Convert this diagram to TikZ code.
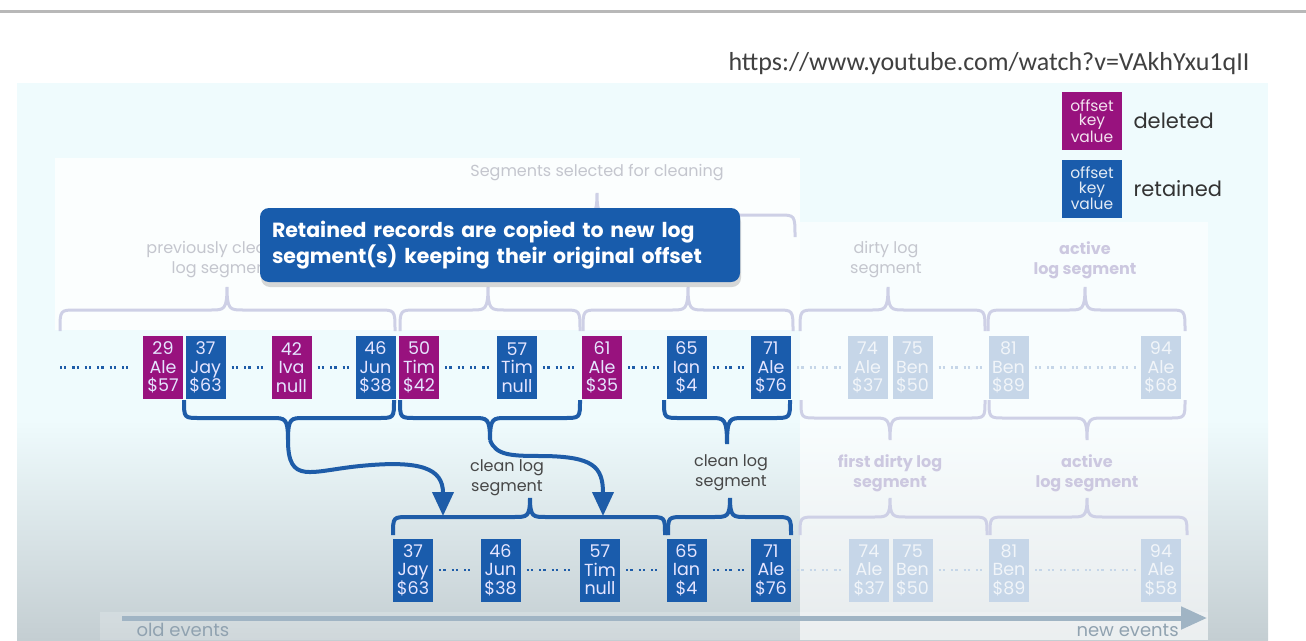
\documentclass[tikz,border=0pt]{standalone}
\usepackage{fontspec}
\setmainfont{Poppins}
\newfontfamily\urlfont{Carlito}
\usetikzlibrary{arrows.meta,shadows}

\definecolor{delcol}{RGB}{152,18,126}
\definecolor{retcol}{RGB}{26,92,172}
\definecolor{bracecol}{RGB}{30,92,168}
\definecolor{fadebox}{RGB}{198,214,232}
\definecolor{fadeline}{RGB}{206,208,230}
\definecolor{fadetext}{RGB}{196,198,206}
\definecolor{fadebold}{RGB}{204,200,224}
\definecolor{slidetop}{RGB}{239,251,253}
\definecolor{slidebot}{RGB}{196,206,210}
\definecolor{notecol}{RGB}{24,92,172}
\definecolor{axiscol}{RGB}{160,180,196}

% curly brace: [style] x1, x2, xtip, yend, yarm, ytip
\newcommand{\segbrace}[7][]{%
  \draw[#1] (#2,#5) .. controls (#2,#6) .. (#2+16,#6) -- (#4-16,#6)
    .. controls (#4-3,#6) and (#4,#6) .. (#4,#7)
    .. controls (#4,#6) and (#4+3,#6) .. (#4+16,#6) -- (#3-16,#6)
    .. controls (#3,#6) .. (#3,#5);}

\tikzset{
  rec/.style={minimum width=40pt, minimum height=63pt, inner sep=0pt, align=center,
    font=\fontsize{17.5}{18.5}\selectfont, text=white!90!blue},
  delrec/.style={rec, fill=delcol},
  retrec/.style={rec, fill=retcol},
  oldrec/.style={rec, fill=fadebox, text=white!75!fadebox},
  dotgap/.style={draw=bracecol, line width=2.4pt, dash pattern=on 2.2pt off 2pt on 2.2pt off 6pt,
    shorten <=6pt, shorten >=5pt},
  fadegap/.style={dotgap, draw=fadebox},
  darkbrace/.style={draw=bracecol, line width=4pt},
  lightbrace/.style={draw=fadeline, line width=3pt},
  seglabel/.style={align=center, font=\fontsize{16}{20}\selectfont, text=black!72},
  fadelabel/.style={seglabel, text=fadetext},
  fadehead/.style={seglabel, text=fadebold, font=\bfseries\fontsize{16}{20}\selectfont},
  flow/.style={draw=bracecol, line width=4pt, -{Triangle[length=24pt,width=21pt]}},
  legbox/.style={minimum width=60pt, minimum height=58pt, inner sep=0pt, align=center,
    font=\fontsize{15.5}{14.5}\selectfont},
  legtext/.style={anchor=west, font=\fontsize{21}{24}\selectfont, text=black!80},
  axistext/.style={anchor=base west, font=\fontsize{18}{22}\selectfont, text=axiscol!90!black},
}

\begin{document}
\begin{tikzpicture}[x=1pt,y=-1pt]
    \clip (0,0) rectangle (1306,640);
    \fill[white] (0,0) rectangle (1306,640);
    \draw[black!28,line width=3pt] (0,11) -- (1306,11);
    \node[anchor=east, font=\urlfont\fontsize{26}{28}\selectfont, text=black!75] (url) at (1253,64)
        {https://www.youtube.com/watch?v=VAkhYxu1qII};

    % slide background and fading panels
    \fill[slidetop] (17,83) rectangle (1268,420);
    \shade[top color=slidetop,bottom color=slidebot] (17,420) rectangle (1268,640);
    \fill[white,opacity=0.8] (55,158) rectangle (800,330);
    \fill[white,opacity=0.6] (800,222) rectangle (1208,640);
    \fill[white,opacity=0.2] (100,612) rectangle (1208,640);

    % legend
    \node[legbox, fill=delcol, text=white!88!delcol] (legdel) at (1092,121) {offset\\key\\value};
    \node[legbox, fill=retcol, text=white!88!retcol] (legret) at (1092,188.5) {offset\\key\\value};
    \node[legtext] (deltext) at (1130,121) {deleted};
    \node[legtext] (rettext) at (1130,189) {retained};

    % faded labels and braces above the log
    \node[fadelabel] (selected) at (597,173) {Segments selected for cleaning};
    \segbrace[lightbrace]{400}{795}{597}{237}{215}{193}
    \node[fadelabel] (prevseg) at (222,260) {previously cleaned\\log segment};
    \node[fadelabel] (dirtyseg) at (886,260) {dirty log\\segment};
    \node[fadehead] (activeseg) at (1085,260) {active\\log segment};
    \segbrace[lightbrace]{60}{395}{227}{331}{310}{287}
    \segbrace[lightbrace]{400}{580}{488}{331}{310}{287}
    \segbrace[lightbrace]{583}{793}{688}{331}{310}{287}
    \segbrace[lightbrace]{800}{985}{888}{331}{310}{287}
    \segbrace[lightbrace]{988}{1185}{1085}{331}{310}{287}

    % log before cleaning
    \coordinate (logstart) at (60,367.5);
    \node[delrec] (t29) at (163,367.5) {29\\Ale\\\$57};
    \node[retrec] (t37) at (205.5,367.5) {37\\Jay\\\$63};
    \node[delrec] (t42) at (291.5,367.5) {42\\Iva\\null};
    \node[retrec] (t46) at (375.5,367.5) {46\\Jun\\\$38};
    \node[delrec] (t50) at (419,367.5) {50\\Tim\\\$42};
    \node[retrec] (t57) at (517,367.5) {57\\Tim\\null};
    \node[delrec] (t61) at (602,367.5) {61\\Ale\\\$35};
    \node[retrec] (t65) at (686.5,367.5) {65\\Ian\\\$4};
    \node[retrec] (t71) at (771,367.5) {71\\Ale\\\$76};
    \node[oldrec] (t74) at (867.5,367.5) {74\\Ale\\\$37};
    \node[oldrec] (t75) at (912.5,367.5) {75\\Ben\\\$50};
    \node[oldrec] (t81) at (1008.5,367.5) {81\\Ben\\\$89};
    \node[oldrec] (t94) at (1161,367.5) {94\\Ale\\\$68};

    \draw[dotgap, shorten <=0pt, shorten >=10pt] (logstart) -- (t29.west);
    \draw[dotgap] (t37.east) -- (t42.west);
    \draw[dotgap] (t42.east) -- (t46.west);
    \draw[dotgap] (t50.east) -- (t57.west);
    \draw[dotgap] (t57.east) -- (t61.west);
    \draw[dotgap] (t61.east) -- (t65.west);
    \draw[dotgap] (t65.east) -- (t71.west);
    \draw[fadegap] (t71.east) -- (t74.west);
    \draw[fadegap] (t75.east) -- (t81.west);
    \draw[fadegap] (t81.east) -- (t94.west);

    % braces below the log
    \segbrace[darkbrace]{184}{394}{288}{400}{418}{440}
    \segbrace[darkbrace]{400}{580}{490}{400}{418}{440}
    \segbrace[darkbrace]{664}{790}{727}{400}{418}{444}
    \segbrace[lightbrace]{801}{985}{890}{400}{418}{440}
    \segbrace[lightbrace]{989}{1185}{1087}{400}{418}{440}

    \coordinate (tipA) at (288,440);
    \coordinate (tipB) at (490,440);
    \coordinate (inA) at (443,516);
    \coordinate (inB) at (603,516);
    \draw[flow] (tipA) .. controls (288,485) and (310,471) .. (360,466)
        .. controls (420,460) and (443,468) .. (inA);
    \draw[flow] (tipB) .. controls (496,456) and (512,456) .. (545,456)
        .. controls (592,457) and (603,466) .. (inB);

    \node[seglabel] (clean1) at (507,478) {clean log\\segment};
    \node[seglabel] (clean2) at (731,473) {clean log\\segment};
    \node[fadehead] (firstdirty) at (890,473) {first dirty log\\segment};
    \node[fadehead] (activeseg2) at (1087,473) {active\\log segment};

    % braces above the cleaned log
    \segbrace[darkbrace]{393}{665}{530}{535}{517}{498}
    \segbrace[darkbrace]{668}{791}{730}{535}{517}{498}
    \segbrace[lightbrace]{800}{987}{890}{535}{517}{498}
    \segbrace[lightbrace]{990}{1187}{1087}{535}{517}{498}

    % log after cleaning
    \node[retrec] (c37) at (413,570) {37\\Jay\\\$63};
    \node[retrec] (c46) at (500.5,570) {46\\Jun\\\$38};
    \node[retrec] (c57) at (600,570) {57\\Tim\\null};
    \node[retrec] (c65) at (686.5,570) {65\\Ian\\\$4};
    \node[retrec] (c71) at (771,570) {71\\Ale\\\$76};
    \node[oldrec] (c74) at (869,570) {74\\Ale\\\$37};
    \node[oldrec] (c75) at (912.5,570) {75\\Ben\\\$50};
    \node[oldrec] (c81) at (1009,570) {81\\Ben\\\$89};
    \node[oldrec] (c94) at (1161,570) {94\\Ale\\\$58};

    \draw[dotgap] (c37.east) -- (c46.west);
    \draw[dotgap] (c46.east) -- (c57.west);
    \draw[dotgap] (c57.east) -- (c65.west);
    \draw[dotgap] (c65.east) -- (c71.west);
    \draw[fadegap] (c71.east) -- (c74.west);
    \draw[fadegap] (c75.east) -- (c81.west);
    \draw[fadegap] (c81.east) -- (c94.west);

    % time axis
    \coordinate (oldend) at (122,618);
    \coordinate (newend) at (1207,618);
    \draw[axiscol, line width=5pt, -{Triangle[length=26pt,width=22pt]}] (oldend) -- (newend);
    \node[axistext] (oldev) at (133,636) {old events};
    \node[axistext] (newev) at (1073,636) {new events};

    % callout
    \node[fill=notecol, rounded corners=9pt, minimum width=480pt, minimum height=74pt,
        text width=456pt, align=left, text=white, inner sep=0pt,
        font=\bfseries\fontsize{20.5}{24}\selectfont,
        drop shadow={opacity=0.3, shadow xshift=1pt, shadow yshift=-5pt}] (note) at (500,245)
        {Retained records are copied to new log\\segment(s) keeping their original offset};
\end{tikzpicture}
\end{document}
